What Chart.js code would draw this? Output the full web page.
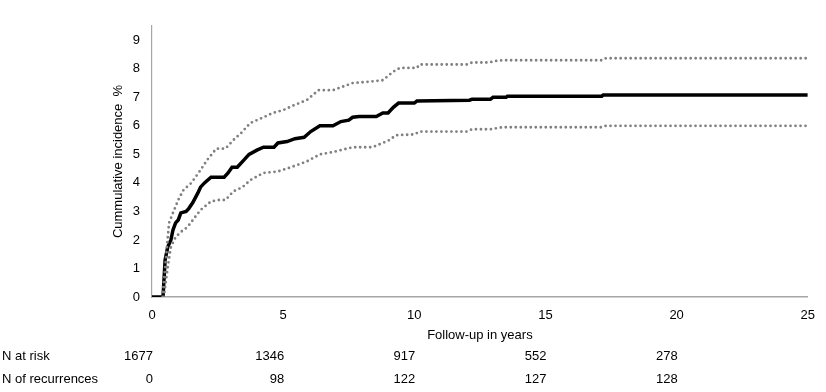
<!DOCTYPE html>
<html>
<head>
<meta charset="utf-8">
<script src="https://cdn.jsdelivr.net/npm/chart.js@4/dist/chart.umd.min.js"></script>
<style>
  html, body { margin: 0; padding: 0; background: #fff; }
  #wrap { width: 826px; height: 392px; position: relative; }
</style>
</head>
<body>
<div id="wrap"><canvas id="incidenceChart"></canvas></div>
<script>
// Cumulative incidence (years, %)
var estX = [0, 0.35, 0.42, 0.5, 0.6, 0.72, 0.8, 0.9, 1.0, 1.1, 1.3, 1.4, 1.55, 1.75, 1.85, 2.0, 2.25, 2.75, 2.9, 3.05, 3.25, 3.5, 3.7, 4.0, 4.25, 4.65, 4.8, 5.15, 5.45, 5.8, 6.05, 6.4, 6.9, 7.2, 7.5, 7.65, 7.9, 8.55, 8.8, 9.0, 9.2, 9.4, 10.0, 10.1, 12.1, 12.2, 12.9, 13.0, 13.5, 13.55, 17.15, 17.2, 25];
var estY = [0, 0, 0, 1.3, 1.75, 2.0, 2.35, 2.6, 2.7, 2.95, 3.0, 3.1, 3.3, 3.65, 3.85, 4.0, 4.2, 4.2, 4.35, 4.55, 4.55, 4.8, 5.0, 5.15, 5.25, 5.25, 5.4, 5.45, 5.55, 5.6, 5.8, 6.0, 6.0, 6.15, 6.2, 6.3, 6.33, 6.33, 6.45, 6.45, 6.65, 6.8, 6.8, 6.87, 6.9, 6.93, 6.93, 7.0, 7.0, 7.04, 7.04, 7.08, 7.08];

var upperX = [0.4, 0.55, 0.65, 0.8, 1.0, 1.2, 1.5, 1.85, 2.1, 2.45, 2.8, 3.1, 3.4, 3.75, 4.25, 4.6, 5.0, 5.4, 5.9, 6.35, 6.9, 7.65, 8.3, 8.8, 9.2, 9.45, 10.1, 10.2, 12.0, 12.2, 12.85, 13.05, 13.4, 17.15, 17.3, 25];
var upperY = [0, 1.55, 2.6, 2.95, 3.4, 3.75, 4.0, 4.45, 4.8, 5.2, 5.2, 5.5, 5.75, 6.1, 6.3, 6.45, 6.55, 6.72, 6.9, 7.25, 7.25, 7.5, 7.55, 7.6, 7.9, 8.03, 8.03, 8.15, 8.15, 8.22, 8.22, 8.27, 8.3, 8.3, 8.37, 8.37];

var lowerX = [0.45, 0.6, 0.72, 0.9, 1.1, 1.35, 1.6, 1.85, 2.25, 2.55, 2.8, 3.1, 3.45, 3.75, 4.25, 4.8, 5.3, 5.9, 6.4, 6.9, 7.65, 8.4, 8.8, 9.05, 9.3, 10.0, 10.2, 12.0, 12.2, 12.9, 13.35, 17.15, 17.3, 25];
var lowerY = [0, 1.05, 1.75, 2.1, 2.28, 2.45, 2.75, 3.05, 3.35, 3.4, 3.4, 3.7, 3.85, 4.1, 4.35, 4.4, 4.55, 4.75, 5.0, 5.08, 5.25, 5.25, 5.4, 5.5, 5.67, 5.7, 5.8, 5.8, 5.88, 5.88, 5.95, 5.95, 6.0, 6.0];

// Risk table
var riskTimes = [0, 5, 10, 15, 20];
var nAtRisk = [1677, 1346, 917, 552, 278];
var nRecurrences = [0, 98, 122, 127, 128];
var rowLabels = ['N at risk', 'N of recurrences'];

var xTicks = [0, 5, 10, 15, 20, 25];
var yTicks = [0, 1, 2, 3, 4, 5, 6, 7, 8, 9];

function toPoints(xs, ys) {
  return xs.map(function (x, i) { return { x: x, y: ys[i] }; });
}

var fontFamily = "'Liberation Sans', Arial, sans-serif";

// draws the "N at risk" table under the x axis
var riskTablePlugin = {
  id: 'riskTable',
  afterDraw: function (chart) {
    var ctx = chart.ctx;
    var xScale = chart.scales.x;
    var rows = [nAtRisk, nRecurrences];
    var rowY = [356, 379];
    ctx.save();
    ctx.font = '13px ' + fontFamily;
    ctx.fillStyle = '#000';
    ctx.textBaseline = 'middle';
    rows.forEach(function (row, r) {
      ctx.textAlign = 'left';
      ctx.fillText(rowLabels[r], 2, rowY[r]);
      ctx.textAlign = 'right';
      row.forEach(function (v, i) {
        ctx.fillText(String(v), xScale.getPixelForValue(riskTimes[i]) + 1, rowY[r]);
      });
    });
    ctx.restore();
  }
};

var ctx = document.getElementById('incidenceChart').getContext('2d');
var chart = new Chart(ctx, {
  type: 'line',
  data: {
    datasets: [
      {
        label: 'Upper 95% CI',
        data: toPoints(upperX, upperY),
        borderColor: '#808080',
        borderWidth: 2.8,
        borderDash: [0, 5],
        borderCapStyle: 'round',
        pointRadius: 0,
        fill: false,
        tension: 0
      },
      {
        label: 'Lower 95% CI',
        data: toPoints(lowerX, lowerY),
        borderColor: '#808080',
        borderWidth: 2.8,
        borderDash: [0, 5],
        borderCapStyle: 'round',
        pointRadius: 0,
        fill: false,
        tension: 0
      },
      {
        label: 'Cumulative incidence',
        data: toPoints(estX, estY),
        borderColor: '#000000',
        borderWidth: 3.5,
        pointRadius: 0,
        fill: false,
        tension: 0
      }
    ]
  },
  options: {
    responsive: true,
    maintainAspectRatio: false,
    animation: false,
    layout: {
      padding: { left: 106, right: 16, top: 26, bottom: 47 }
    },
    plugins: {
      legend: { display: false },
      tooltip: { enabled: false }
    },
    scales: {
      x: {
        type: 'linear',
        min: 0,
        max: 25,
        afterFit: function (scale) { scale.height = 48; },
        afterBuildTicks: function (scale) {
          scale.ticks = xTicks.map(function (v) { return { value: v }; });
        },
        grid: { display: false, drawTicks: false },
        border: { display: true, color: '#a6a6a6', width: 1.5 },
        ticks: {
          padding: 11,
          maxRotation: 0,
          color: '#000',
          font: { family: fontFamily, size: 13 }
        },
        title: {
          display: true,
          text: 'Follow-up in years',
          color: '#000',
          padding: { top: 4, bottom: 2 },
          font: { family: fontFamily, size: 13 }
        }
      },
      y: {
        type: 'linear',
        min: 0,
        max: 9.5,
        afterFit: function (scale) { scale.width = 46; },
        afterBuildTicks: function (scale) {
          scale.ticks = yTicks.map(function (v) { return { value: v }; });
        },
        grid: { display: false, drawTicks: false },
        border: { display: true, color: '#a6a6a6', width: 1.2 },
        ticks: {
          padding: 12,
          color: '#000',
          font: { family: fontFamily, size: 13 }
        },
        title: {
          display: true,
          text: 'Cummulative incidence  %',
          color: '#000',
          padding: { top: 5, bottom: 4 },
          font: { family: fontFamily, size: 13 }
        }
      }
    }
  },
  plugins: [riskTablePlugin]
});
</script>
</body>
</html>
